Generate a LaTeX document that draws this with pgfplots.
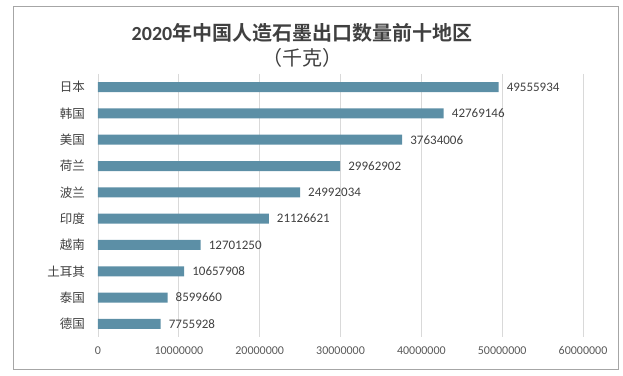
\documentclass[border=0pt]{standalone}
\usepackage{pgfplots}
\pgfplotsset{compat=1.18}
\usepackage{fontspec}
\setmainfont{Carlito}
\newfontfamily\cjk{Noto Sans CJK SC}[BoldFont={Noto Sans CJK SC Bold}]
\definecolor{barc}{HTML}{5C8FA6}
\definecolor{gridc}{HTML}{D9D9D9}
\definecolor{txt}{HTML}{404040}
\definecolor{tick}{HTML}{595959}
\definecolor{frame}{HTML}{A6A6A6}
\begin{document}
\begin{tikzpicture}
\path[use as bounding box] (-98bp,-39bp) rectangle (525bp,337bp);
\draw[frame, line width=0.9bp] (-85bp,-32bp) rectangle (520bp,331bp);
\begin{axis}[
  at={(0,0)}, anchor=south west,
  scale only axis, width=485bp, height=263bp,
  xbar, bar width=10bp,
  xmin=0, xmax=60000000,
  ymin=-0.5, ymax=9.5, y dir=reverse,
  axis line style={draw=none},
  major tick length=0pt,
  xmajorgrids, grid style={gridc, line width=0.75bp},
  xtick={0,10000000,20000000,30000000,40000000,50000000,60000000},
  xticklabels={0,10000000,20000000,30000000,40000000,50000000,60000000},
  scaled x ticks=false,
  xticklabel style={font=\fontsize{12bp}{14bp}\selectfont, text=tick, anchor=base, yshift=-17bp},
  ytick={0,...,9},
  yticklabels={日本,韩国,美国,荷兰,波兰,印度,越南,土耳其,泰国,德国},
  yticklabel style={font=\cjk\fontsize{12.5bp}{14bp}\selectfont, text=txt, anchor=east, inner sep=0pt, xshift=-13bp},
  point meta=explicit symbolic,
  nodes near coords,
  nodes near coords style={font=\fontsize{13bp}{15bp}\selectfont, text=txt, anchor=west, inner sep=0pt, xshift=8bp},
  clip=false,
]
\addplot[fill=barc, draw=none] coordinates {
(49555934,0) [49555934]
(42769146,1) [42769146]
(37634006,2) [37634006]
(29962902,3) [29962902]
(24992034,4) [24992034]
(21126621,5) [21126621]
(12701250,6) [12701250]
(10657908,7) [10657908]
(8599660,8) [8599660]
(7755928,9) [7755928]
};
\end{axis}
\node[text=txt, inner sep=0pt, anchor=center] at (204bp,304bp) {\fontsize{20bp}{22bp}\selectfont\bfseries 2020{\cjk 年中国人造石墨出口数量前十地区}};
\node[text=txt, inner sep=0pt, anchor=center] at (204bp,279bp) {\fontsize{20bp}{22bp}\selectfont\cjk （千克）};
\end{tikzpicture}
\end{document}
